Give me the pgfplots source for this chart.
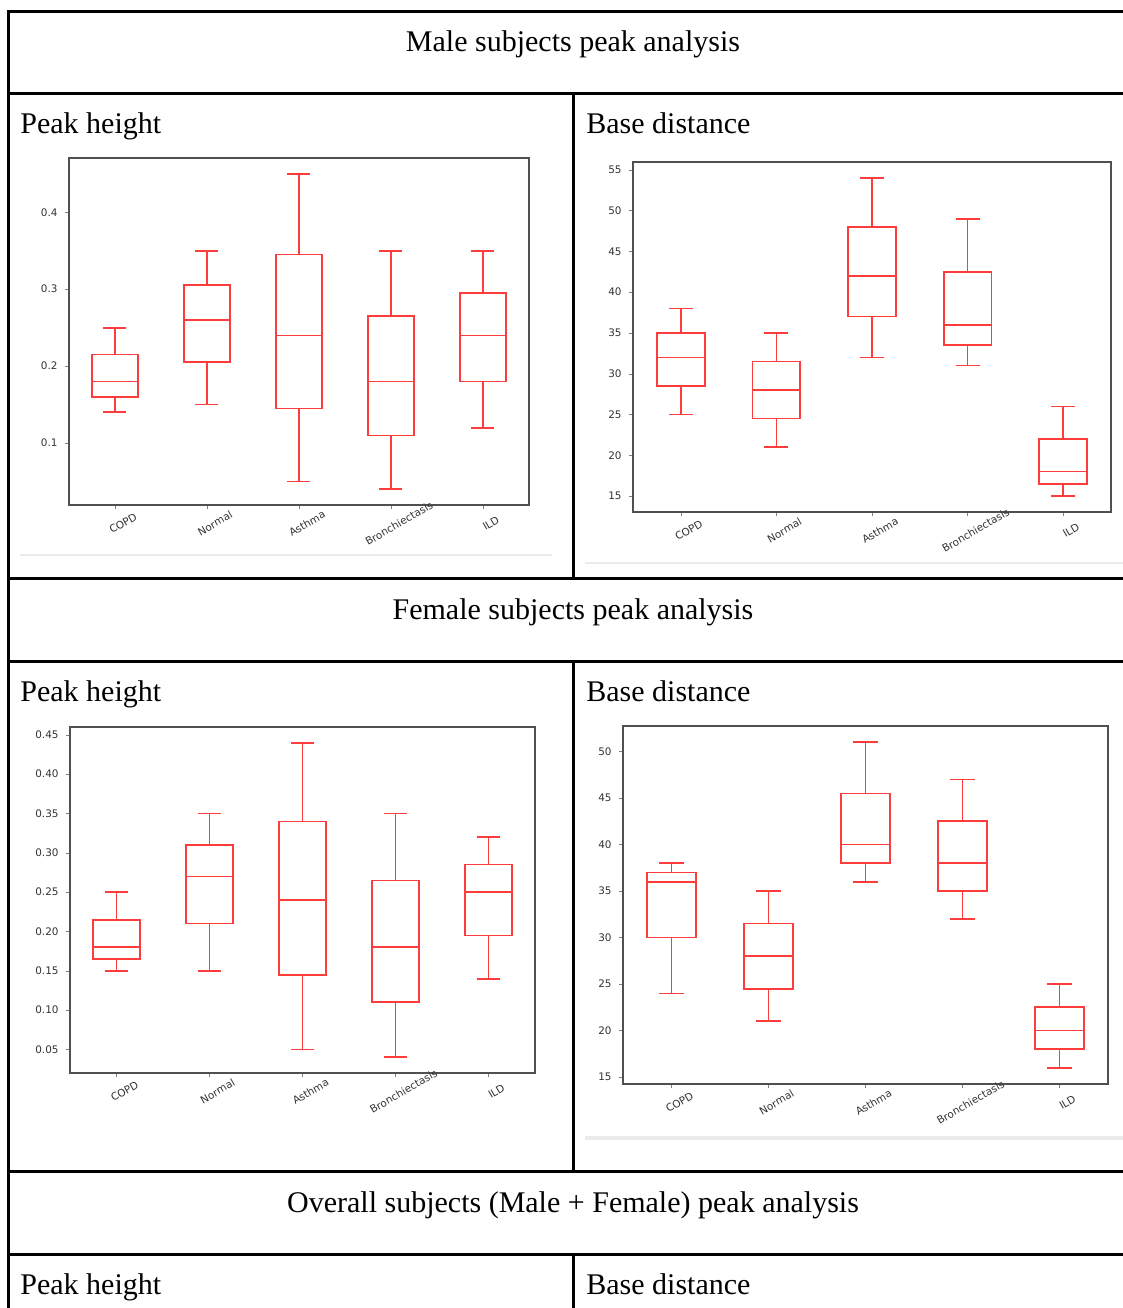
\documentclass[border=0pt]{standalone}
\usepackage{pgfplots}
\pgfplotsset{compat=1.18}
\usepgfplotslibrary{statistics}
\usepackage{fontspec}
\setmainfont{Liberation Serif}
\newfontfamily\dejavu{DejaVu Sans}
\definecolor{boxred}{RGB}{255,60,60}
\definecolor{framegray}{RGB}{80,80,80}
\definecolor{ticktext}{RGB}{50,50,50}

\pgfplotsset{
  mybox/.style={
    scale only axis,
    anchor=south west,
    xmin=0.5, xmax=5.5,
    xtick={1,2,3,4,5},
    xticklabels={COPD,Normal,Asthma,Bronchiectasis,ILD},
    tick pos=left, tick align=outside, major tick length=2.2pt,
    axis line style={framegray, line width=0.9pt},
    tick label style={font=\dejavu\fontsize{5.2}{6}\selectfont, text=ticktext},
    x tick label style={rotate=30, anchor=north, yshift=-2.5pt},
    /pgf/number format/assume math mode=true,
    boxplot/draw direction=y,
    boxplot/box extend=0.5,
    boxplot/whisker extend=0.25,
  },
  bx/.style={boxred, line width=0.85pt, solid, mark=none},
}
\newcommand{\bp}[6]{\addplot[bx, boxplot prepared={draw position=#1, lower whisker=#2, lower quartile=#3, median=#4, upper quartile=#5, upper whisker=#6}] coordinates {};}

\begin{document}
\begin{tikzpicture}
\useasboundingbox (0pt,0pt) rectangle (561.5pt,-654pt);

\begin{scope}[x=0.5pt, y=-0.5pt]
% table rules
\begin{scope}[line width=1.5pt, black]
\draw (8,11) -- (1123,11);
\draw (8,93) -- (1123,93);
\draw (8,578) -- (1123,578);
\draw (8,661) -- (1123,661);
\draw (8,1171) -- (1123,1171);
\draw (8,1254) -- (1123,1254);
\draw (8,10) -- (8,1308);
\draw (573,93) -- (573,578);
\draw (573,661) -- (573,1171);
\draw (573,1254) -- (573,1308);
\end{scope}

% faint screenshot edges
\draw[black!8, line width=0.6pt] (20,555) -- (552,555);
\draw[black!8, line width=0.6pt] (585,563) -- (1123,563);
\draw[black!8, line width=2pt] (585,1138) -- (1123,1138);

% texts
\begin{scope}[every node/.style={font=\fontsize{15}{18}\selectfont, inner sep=0pt}]
\node[anchor=base] at (573,51) {Male subjects peak analysis};
\node[anchor=base west] at (20,133) {Peak height};
\node[anchor=base west] at (586,133) {Base distance};
\node[anchor=base] at (573,619) {Female subjects peak analysis};
\node[anchor=base west] at (20,701) {Peak height};
\node[anchor=base west] at (586,701) {Base distance};
\node[anchor=base] at (573,1212) {Overall subjects (Male + Female) peak analysis};
\node[anchor=base west] at (20,1294) {Peak height};
\node[anchor=base west] at (586,1294) {Base distance};
\end{scope}
\end{scope}

% Male peak height
\begin{scope}
\clip (6pt,-72.5pt) rectangle (285pt,-277.5pt);
\begin{axis}[mybox, at={(34.5pt,-252.5pt)}, width=230pt, height=173.5pt,
  ymin=0.0195, ymax=0.4705, ytick={0.1,0.2,0.3,0.4},
  yticklabel style={/pgf/number format/fixed, /pgf/number format/precision=1}]
\bp{1}{0.14}{0.16}{0.18}{0.215}{0.25}
\bp{2}{0.15}{0.205}{0.26}{0.305}{0.35}
\bp{3}{0.05}{0.145}{0.24}{0.345}{0.45}
\bp{4}{0.04}{0.11}{0.18}{0.265}{0.35}
\bp{5}{0.12}{0.18}{0.24}{0.295}{0.35}
\end{axis}
\end{scope}

% Male base distance
\begin{scope}
\clip (288.5pt,-72.5pt) rectangle (561.5pt,-281pt);
\begin{axis}[mybox, at={(316.5pt,-256pt)}, width=239pt, height=175pt,
  ymin=13.05, ymax=55.95, ytick={15,20,...,55}]
\bp{1}{25}{28.5}{32}{35}{38}
\bp{2}{21}{24.5}{28}{31.5}{35}
\bp{3}{32}{37}{42}{48}{54}
\bp{4}{31}{33.5}{36}{42.5}{49}
\bp{5}{15}{16.5}{18}{22}{26}
\end{axis}
\end{scope}

% Female peak height
\begin{scope}
\clip (6pt,-357.5pt) rectangle (285pt,-561pt);
\begin{axis}[mybox, at={(35pt,-536.5pt)}, width=232.5pt, height=173pt,
  ymin=0.02, ymax=0.46, ytick={0.05,0.10,...,0.46},
  yticklabel style={/pgf/number format/fixed, /pgf/number format/fixed zerofill, /pgf/number format/precision=2}]
\bp{1}{0.15}{0.165}{0.18}{0.215}{0.25}
\bp{2}{0.15}{0.21}{0.27}{0.31}{0.35}
\bp{3}{0.05}{0.145}{0.24}{0.34}{0.44}
\bp{4}{0.04}{0.11}{0.18}{0.265}{0.35}
\bp{5}{0.14}{0.195}{0.25}{0.285}{0.32}
\end{axis}
\end{scope}

% Female base distance
\begin{scope}
\clip (288.5pt,-357.5pt) rectangle (561.5pt,-568pt);
\begin{axis}[mybox, at={(311.5pt,-542pt)}, width=242.5pt, height=179pt,
  ymin=14.25, ymax=52.75, ytick={15,20,...,50}]
\bp{1}{24}{30}{36}{37}{38}
\bp{2}{21}{24.5}{28}{31.5}{35}
\bp{3}{36}{38}{40}{45.5}{51}
\bp{4}{32}{35}{38}{42.5}{47}
\bp{5}{16}{18}{20}{22.5}{25}
\end{axis}
\end{scope}

\end{tikzpicture}
\end{document}
